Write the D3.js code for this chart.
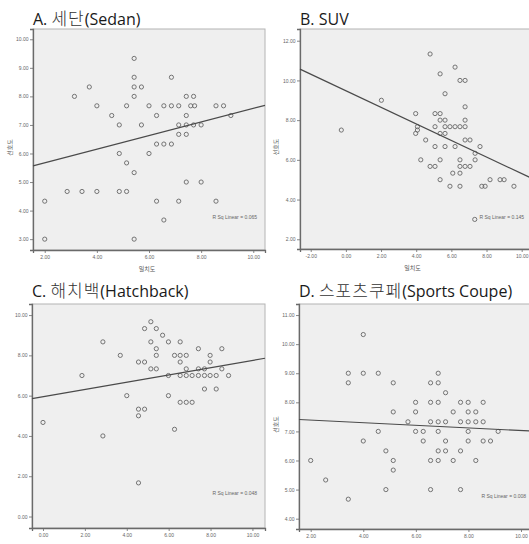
<!DOCTYPE html>
<html>
<head>
<meta charset="utf-8">
<script src="https://cdn.jsdelivr.net/npm/d3@7"></script>
<style>
  body { margin: 0; background: #fff; }
  svg { display: block; }
  .title { font-family: "Open Sans", "Noto Sans CJK KR", sans-serif; font-size: 16px; fill: #1a1a1a; }
  .title .ko { font-family: "Noto Sans CJK KR", sans-serif; font-size: 17px; font-weight: 300; letter-spacing: 1px; fill: #333; }
  .tick-label { font-family: "Liberation Sans", Arial, sans-serif; font-size: 5px; fill: #666; }
  .axis-title { font-family: "Noto Sans CJK KR", sans-serif; font-size: 6px; fill: #555; }
  .rsq { font-family: "Liberation Sans", Arial, sans-serif; font-size: 5px; fill: #666; }
</style>
</head>
<body>
<svg id="chart" width="529" height="544"></svg>
<script>
// panel titles, axis titles and fit labels
const titles = ["A. 세단(Sedan)", "B. SUV", "C. 해치백(Hatchback)", "D. 스포츠쿠페(Sports Coupe)"];
const xTitle = "일치도";
const yTitle = "선호도";
const rsqLabels = ["R Sq Linear = 0.065", "R Sq Linear = 0.145", "R Sq Linear = 0.048", "R Sq Linear = 0.008"];

// tick values per panel
const xTicksA = [2, 4, 6, 8, 10];
const yTicksA = [3, 4, 5, 6, 7, 8, 9, 10];
const xTicksB = [-2, 0, 2, 4, 6, 8, 10];
const yTicksB = [2, 4, 6, 8, 10, 12];
const xTicksC = [0, 2, 4, 6, 8, 10];
const yTicksC = [0, 2, 4, 6, 8, 10];
const xTicksD = [2, 4, 6, 8, 10];
const yTicksD = [4, 5, 6, 7, 8, 9, 10, 11];

// fit lines: [intercept, slope]
const fitA = [5.20, 0.238];
const fitB = [9.48, -0.417];
const fitC = [5.95, 0.18];
const fitD = [7.48, -0.045];

// A. Sedan
const sedanX = [5.43, 5.43, 6.86, 3.71, 5.43, 5.71, 3.14, 5.43, 7.43, 7.71,
  4.0, 5.14, 6.0, 6.57, 6.86, 7.14, 7.6, 7.75, 8.57, 8.86,
  4.57, 6.29, 7.43, 9.14, 4.86, 5.71, 7.14, 7.43, 7.71, 8.0,
  7.14, 7.43, 6.29, 6.57, 6.86, 4.86, 6.0, 5.14, 5.43, 7.43, 8.0,
  2.86, 3.43, 4.0, 4.86, 5.14, 2.0, 6.29, 7.14, 8.57, 6.57, 2.0, 5.43];
const sedanY = [9.33, 8.67, 8.67, 8.33, 8.33, 8.33, 8.0, 8.0, 8.0, 8.0,
  7.67, 7.67, 7.67, 7.67, 7.67, 7.67, 7.67, 7.67, 7.67, 7.67,
  7.33, 7.33, 7.33, 7.33, 7.0, 7.0, 7.0, 7.0, 7.0, 7.0,
  6.67, 6.67, 6.33, 6.33, 6.33, 6.0, 6.0, 5.67, 5.33, 5.0, 5.0,
  4.67, 4.67, 4.67, 4.67, 4.67, 4.33, 4.33, 4.33, 4.33, 3.67, 3.0, 3.0];

// B. SUV
const suvX = [4.79, 6.21, 5.36, 6.49, 6.78, 5.64, 2.02, 6.78, 3.97, 5.07, 5.36,
  5.36, 5.64, 6.78, -0.26, 4.07, 5.07, 5.64, 5.92, 6.21, 6.49, 6.78, 4.07,
  3.97, 5.36, 5.64, 4.54, 6.78, 7.06, 5.07, 5.64, 6.21, 7.63, 7.35,
  4.26, 5.36, 6.49, 7.35, 4.79, 5.07, 6.49, 6.78, 7.06, 6.08, 6.49,
  5.36, 8.2, 8.77, 9.0, 5.92, 6.49, 7.73, 7.92, 9.56, 7.33];
const suvY = [11.33, 10.67, 10.33, 10.0, 10.0, 9.33, 9.0, 8.67, 8.33, 8.33, 8.33,
  8.0, 8.0, 8.0, 7.5, 7.67, 7.67, 7.67, 7.67, 7.67, 7.67, 7.67, 7.5,
  7.33, 7.33, 7.33, 7.0, 7.0, 7.0, 6.67, 6.67, 6.67, 6.67, 6.33,
  6.0, 6.0, 6.0, 6.0, 5.67, 5.67, 5.67, 5.67, 5.67, 5.33, 5.33,
  5.0, 5.0, 5.0, 5.0, 4.67, 4.67, 4.67, 4.67, 4.67, 3.0];

// C. Hatchback
const hatchX = [5.15, 4.85, 5.41, 5.71, 2.86, 5.15, 5.99, 6.55, 5.41, 7.42, 8.54,
  3.69, 5.41, 6.28, 6.55, 6.84, 7.98, 4.56, 4.85, 6.55, 7.98,
  5.15, 5.41, 6.84, 7.42, 7.71, 8.54,
  1.86, 5.99, 6.55, 6.84, 7.12, 7.42, 7.71, 7.98, 8.27, 8.86,
  7.71, 8.27, 4.0, 5.99, 6.55, 6.84, 7.12, 4.56, 4.85, 4.56, 0.0, 6.28, 2.86, 4.56];
const hatchY = [9.67, 9.33, 9.33, 9.0, 8.67, 8.67, 8.67, 8.67, 8.33, 8.33, 8.33,
  8.0, 8.0, 8.0, 8.0, 8.0, 8.0, 7.67, 7.67, 7.67, 7.67,
  7.33, 7.33, 7.33, 7.33, 7.33, 7.33,
  7.0, 7.0, 7.0, 7.0, 7.0, 7.0, 7.0, 7.0, 7.0, 7.0,
  6.33, 6.33, 6.0, 6.0, 5.67, 5.67, 5.67, 5.33, 5.33, 5.0, 4.67, 4.33, 4.0, 1.67];

// D. Sports Coupe
const coupeX = [4.0, 3.43, 4.0, 4.57, 6.85, 3.43, 5.14, 6.56, 6.85, 7.13,
  5.99, 6.56, 6.85, 7.7, 7.99, 8.56, 5.14, 5.99, 7.42, 7.99, 8.28,
  5.7, 6.56, 6.85, 7.13, 7.7, 7.99, 8.28, 8.56,
  4.57, 5.99, 6.28, 6.85, 7.99, 9.13, 4.0, 6.28, 7.13, 7.99, 8.56, 8.84,
  4.86, 6.85, 7.13, 7.7, 2.0, 5.14, 6.56, 6.85, 7.42, 8.28,
  5.14, 2.57, 4.86, 6.56, 7.7, 3.43];
const coupeY = [10.33, 9.0, 9.0, 9.0, 9.0, 8.67, 8.67, 8.67, 8.67, 8.33,
  8.0, 8.0, 8.0, 8.0, 8.0, 8.0, 7.67, 7.67, 7.67, 7.67, 7.67,
  7.33, 7.33, 7.33, 7.33, 7.33, 7.33, 7.33, 7.33,
  7.0, 7.0, 7.0, 7.0, 7.0, 7.0, 6.67, 6.67, 6.67, 6.67, 6.67, 6.67,
  6.33, 6.33, 6.33, 6.33, 6.0, 6.0, 6.0, 6.0, 6.0, 6.0,
  5.67, 5.33, 5.0, 5.0, 5.0, 4.67];

// layout of the four frames (pixels) and their visible value ranges
const panels = [
  { title: titles[0], xs: sedanX, ys: sedanY, fit: fitA, rsq: rsqLabels[0], xt: xTicksA, yt: yTicksA,
    xd: [1.55, 10.45], yd: [2.62, 10.36], left: 33, right: 265, top: 29, bottom: 250,
    titleY: 25, yTitleX: 10, showX: true, showY: true, rsqX: 257, rsqY: 219 },
  { title: titles[1], xs: suvX, ys: suvY, fit: fitB, rsq: rsqLabels[1], xt: xTicksB, yt: yTicksB,
    xd: [-2.61, 10.53], yd: [1.51, 12.59], left: 300, right: 531, top: 29, bottom: 249,
    titleY: 25, yTitleX: 276, showX: true, showY: true, rsqX: 524, rsqY: 219 },
  { title: titles[2], xs: hatchX, ys: hatchY, fit: fitC, rsq: rsqLabels[2], xt: xTicksC, yt: yTicksC,
    xd: [-0.525, 10.6], yd: [-0.57, 10.55], left: 32, right: 265, top: 304, bottom: 528,
    titleY: 297, yTitleX: null, showX: false, showY: false, rsqX: 257, rsqY: 495 },
  { title: titles[3], xs: coupeX, ys: coupeY, fit: fitD, rsq: rsqLabels[3], xt: xTicksD, yt: yTicksD,
    xd: [1.555, 10.38], yd: [3.645, 11.38], left: 299, right: 531, top: 304, bottom: 529,
    titleY: 297, yTitleX: 276, showX: false, showY: true, rsqX: 526, rsqY: 498 }
];

const svg = d3.select("#chart");
const fmt = d => d.toFixed(2);

panels.forEach(p => {
  const x = d3.scaleLinear().domain(p.xd).range([p.left, p.right]);
  const y = d3.scaleLinear().domain(p.yd).range([p.bottom, p.top]);
  const g = svg.append("g");

  g.append("rect")
    .attr("x", p.left).attr("y", p.top)
    .attr("width", p.right - p.left).attr("height", p.bottom - p.top)
    .attr("fill", "#efefef")
    .attr("stroke", "#b4b4b4")
    .attr("stroke-width", 1);

  const yAxis = d3.axisLeft(y).tickValues(p.yt).tickFormat(fmt).tickSize(3).tickPadding(1.5);
  const xAxis = d3.axisBottom(x).tickValues(p.xt).tickFormat(fmt).tickSize(3).tickPadding(2);

  const ya = g.append("g").attr("transform", `translate(${p.left},0)`).call(yAxis);
  const xa = g.append("g").attr("transform", `translate(0,${p.bottom})`).call(xAxis);
  [ya, xa].forEach(a => {
    a.select(".domain").attr("stroke", "#6a6a6a").attr("stroke-width", 1.3);
    a.selectAll(".tick line").attr("stroke", "#6a6a6a").attr("stroke-width", 0.8);
    a.selectAll(".tick text").attr("class", "tick-label").attr("font-size", null).attr("font-family", null).attr("fill", null);
  });

  g.selectAll("circle")
    .data(d3.zip(p.xs, p.ys))
    .join("circle")
    .attr("cx", d => x(d[0]))
    .attr("cy", d => y(d[1]))
    .attr("r", 2.1)
    .attr("fill", "none")
    .attr("stroke", "#666")
    .attr("stroke-width", 0.9);

  const fx = p.xd;
  g.append("line")
    .attr("x1", x(fx[0])).attr("y1", y(p.fit[0] + p.fit[1] * fx[0]))
    .attr("x2", x(fx[1])).attr("y2", y(p.fit[0] + p.fit[1] * fx[1]))
    .attr("stroke", "#4a4a4a")
    .attr("stroke-width", 1.2);

  g.append("text").attr("class", "rsq")
    .attr("x", p.rsqX).attr("y", p.rsqY)
    .attr("text-anchor", "end")
    .text(p.rsq);

  // title: hangul runs get their own tspan
  const t = g.append("text").attr("class", "title")
    .attr("x", p.left).attr("y", p.titleY);
  p.title.split(/([\uac00-\ud7a3]+)/).filter(s => s.length).forEach(s => {
    t.append("tspan")
      .attr("class", /[\uac00-\ud7a3]/.test(s) ? "ko" : null)
      .text(s);
  });

  if (p.showX) {
    g.append("text").attr("class", "axis-title")
      .attr("x", (p.left + Math.min(p.right, 529)) / 2 - 2)
      .attr("y", p.bottom + 21)
      .attr("text-anchor", "middle")
      .text(xTitle);
  }
  if (p.showY) {
    const cy = (p.top + p.bottom) / 2 + 8;
    g.append("text").attr("class", "axis-title")
      .attr("transform", `translate(${p.yTitleX + 2},${cy}) rotate(-90)`)
      .attr("text-anchor", "middle")
      .text(yTitle);
  }
});
</script>
</body>
</html>
